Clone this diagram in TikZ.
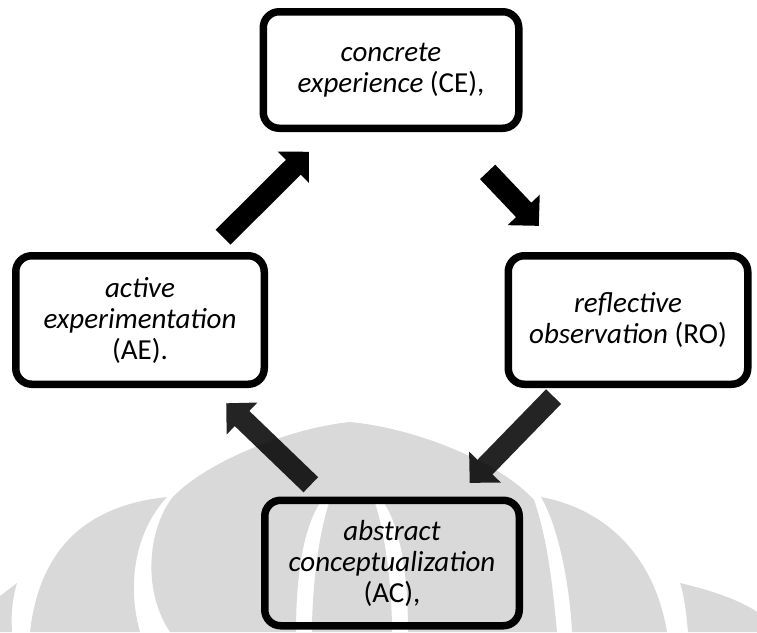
\documentclass[tikz,border=0pt]{standalone}
\usepackage{fontspec}
\setmainfont{Carlito}
\usetikzlibrary{arrows.meta,shadows}

\begin{document}
\begin{tikzpicture}[x=1pt,y=-1pt,
  stage/.style={draw=black,line width=7.5pt,rounded corners=16pt,fill=white,
    align=center,inner sep=0pt,font=\fontsize{29}{31}\selectfont,
    drop shadow={shadow xshift=1.5pt,shadow yshift=-3pt,opacity=0.35}},
  flow/.style={line width=21pt,-{Triangle[length=22pt,width=43pt]}}]
\useasboundingbox (0,0) rectangle (757,632);

\node[stage,minimum width=255.5pt,minimum height=116.5pt] (ce) at (391,70)
  {\textit{concrete}\\\textit{experience} (CE),};
\node[stage,minimum width=239.5pt,minimum height=128.5pt] (ro) at (628,320)
  {\textit{reflective}\\\textit{observation} (RO)};
\node[stage,minimum width=254.5pt,minimum height=125.5pt] (ac) at (392,563)
  {\textit{abstract}\\\textit{conceptualization}\\(AC),};
\node[stage,minimum width=248.5pt,minimum height=128.5pt] (ae) at (140,320)
  {\textit{active}\\\textit{experimentation}\\(AE).};

\draw[flow,black,shorten <=55pt,shorten >=36pt] (ce) -- (ro);
\draw[flow,black!86,shorten <=12pt,shorten >=19pt] (ro) -- (ac);
\draw[flow,black!86,shorten <=17pt,shorten >=22pt] (ac) -- (ae);
\draw[flow,black,shorten <=21pt,shorten >=28pt] (ae) -- (ce);

% faint logo over the lower half
\begin{scope}[fill=black,fill opacity=0.15]
\fill[even odd rule] (350,422) .. controls (290,428) and (205,462) .. (172,498)
  .. controls (148,530) and (142,590) .. (170,632) -- (557,632)
  .. controls (553,590) and (548,540) .. (534,500)
  .. controls (500,462) and (415,428) .. (350,422) -- cycle
  (322,500) .. controls (300,530) and (296,590) .. (296,632) -- (312,632)
  .. controls (312,590) and (318,535) .. (330,500) -- cycle
  (382,500) .. controls (404,530) and (408,590) .. (408,632) -- (392,632)
  .. controls (392,590) and (386,535) .. (374,500) -- cycle;
\fill (167,497) .. controls (90,505) and (40,545) .. (30,632) -- (140,632)
  .. controls (128,590) and (132,535) .. (167,497) -- cycle;
\fill (541,497) .. controls (560,530) and (570,590) .. (572,632) -- (667,632)
  .. controls (655,560) and (610,510) .. (541,497) -- cycle;
\fill (680,583) .. controls (710,590) and (740,600) .. (757,612) -- (757,632)
  -- (688,632) .. controls (686,610) and (684,595) .. (680,583) -- cycle;
\fill (0,596) -- (17,583) .. controls (12,600) and (11,615) .. (12,632)
  -- (0,632) -- cycle;
\end{scope}
\end{tikzpicture}
\end{document}
